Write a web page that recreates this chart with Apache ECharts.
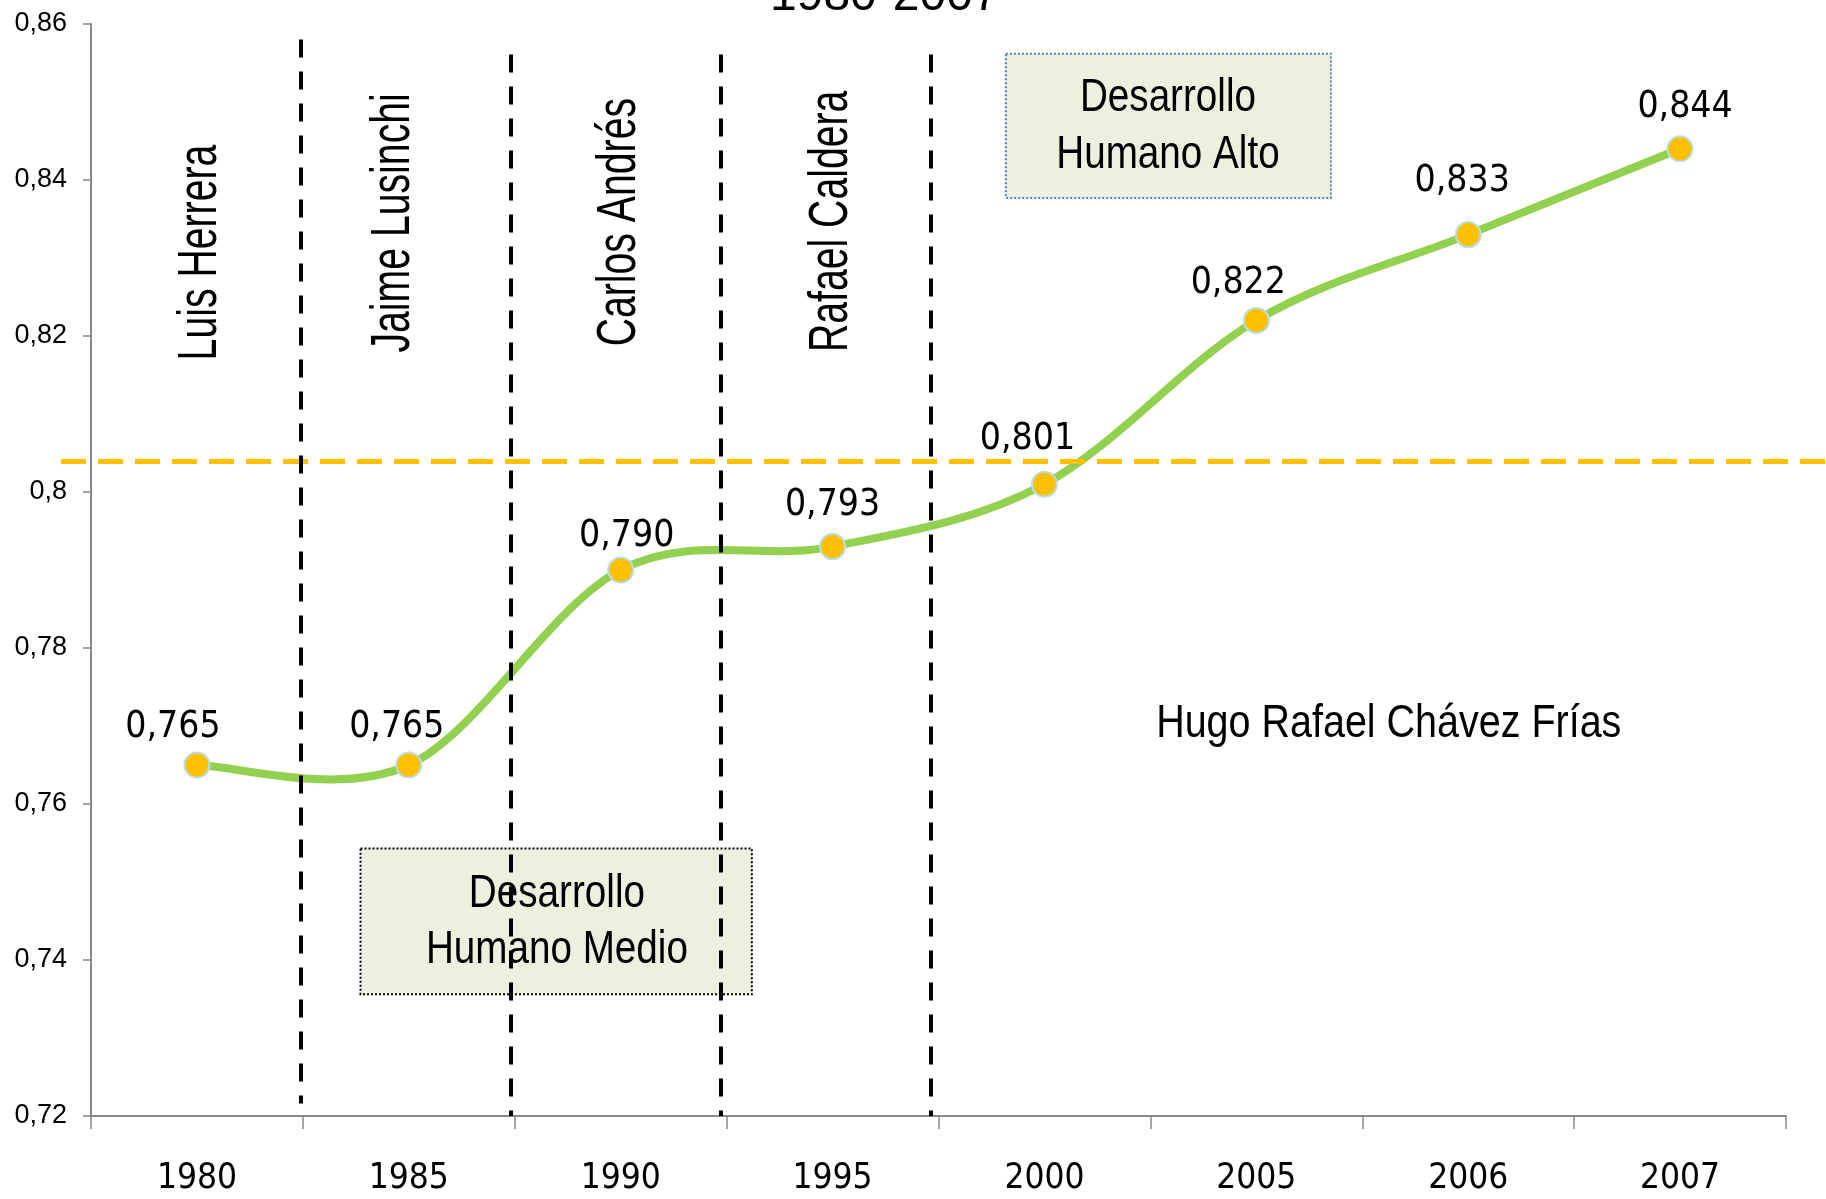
<!DOCTYPE html>
<html>
<head>
<meta charset="utf-8">
<script src="https://cdn.jsdelivr.net/npm/echarts@6/dist/echarts.min.js"></script>
<style>
html,body{margin:0;padding:0;background:#fff;}
#chart{width:1826px;height:1199px;}
</style>
</head>
<body>
<div id="chart"></div>
<script>
// ---- data ----
const years = ['1980', '1985', '1990', '1995', '2000', '2005', '2006', '2007'];
const idh = [0.765, 0.765, 0.790, 0.793, 0.801, 0.822, 0.833, 0.844];
const yMin = 0.72, yMax = 0.86, yStep = 0.02;
const titleText = '1980-2007';
const presidents = ['Luis Herrera', 'Jaime Lusinchi', 'Carlos Andrés', 'Rafael Caldera'];
const chavez = 'Hugo Rafael Chávez Frías';
const highLevel = 0.804;           // umbral Desarrollo Humano Alto
const boxAlto = 'Desarrollo\nHumano Alto';
const boxMedio = 'Desarrollo\nHumano Medio';

// ---- annotation placement (axis units of the helper value axis / y axis) ----
const labelOffsets = [[-24,0],[-12,0],[6,4],[0,-3],[-17,-7],[-18,1],[-6,-15],[5,-3]];
const presidentPos = [[0.019,0.8307],[0.930,0.8345],[1.994,0.8346],[2.997,0.8347]];
const dividers = [[0.491,0.858,0.7216],[1.482,0.8561,0.72],[2.473,0.8561,0.72],[3.464,0.8561,0.72]];
const altoArea = [[3.818,0.8562],[5.352,0.8377]];
const medioArea = [[0.772,0.7543],[2.619,0.7356]];
const altoTextPos = [4.583, 0.84676];
const medioTextPos = [1.699, 0.74478];
const chavezPos = [5.625, 0.7703];

const SANS = '"Liberation Sans",Arial,sans-serif';
const COND = '"DejaVu Sans Condensed","Liberation Sans",sans-serif';
const fmt3 = v => v.toFixed(3).replace('.', ',');

const chart = echarts.init(document.getElementById('chart'));

// Excel-like smoothed curve (Catmull-Rom → cubic Bézier) drawn via the axes' scales
function renderCurve(params, api) {
  const i = params.dataIndex;
  const n = idh.length;
  if (i >= n - 1) return null;
  const P = j => api.coord([Math.max(0, Math.min(n - 1, j)), idh[Math.max(0, Math.min(n - 1, j))]]);
  const p0 = P(i - 1), p1 = P(i), p2 = P(i + 1), p3 = P(i + 2);
  const k = 1 / 6;
  return {
    type: 'bezierCurve',
    shape: {
      x1: p1[0], y1: p1[1], x2: p2[0], y2: p2[1],
      cpx1: p1[0] + (p2[0] - p0[0]) * k, cpy1: p1[1] + (p2[1] - p0[1]) * k,
      cpx2: p2[0] - (p3[0] - p1[0]) * k, cpy2: p2[1] - (p3[1] - p1[1]) * k
    },
    style: {stroke: '#92D050', lineWidth: 8, fill: null, lineCap: 'round'}
  };
}

chart.setOption({
  animation: false,
  backgroundColor: '#fff',
  title: {
    text: titleText, left: 765, top: -32,
    textStyle: {fontFamily: SANS, fontSize: 48, fontWeight: 'normal', color: '#000'}
  },
  grid: [
    {left: 91, right: 40, top: 24, bottom: 83},
    {left: 61, right: 0, top: 24, bottom: 83}
  ],
  xAxis: [
    {
      type: 'category', data: years, boundaryGap: true, gridIndex: 0,
      axisLine: {lineStyle: {color: '#888', width: 2}},
      axisTick: {show: true, length: 13, lineStyle: {color: '#888', width: 1.5}},
      axisLabel: {fontFamily: COND, fontSize: 35, color: '#000', margin: 45},
      splitLine: {show: false}
    },
    {type: 'value', gridIndex: 0, min: -0.5, max: 7.5, show: false},
    {type: 'value', gridIndex: 1, min: 0, max: 1, show: false}
  ],
  yAxis: [
    {
      type: 'value', gridIndex: 0, min: yMin, max: yMax, interval: yStep,
      axisLine: {show: true, onZero: false, lineStyle: {color: '#888', width: 2}},
      axisTick: {show: true, length: 8, lineStyle: {color: '#888', width: 1.5}},
      axisLabel: {
        fontFamily: SANS, fontSize: 27, color: '#000', margin: 24,
        formatter: v => String(+v.toFixed(2)).replace('.', ',')
      },
      splitLine: {show: false}
    },
    {type: 'value', gridIndex: 1, min: yMin, max: yMax, show: false}
  ],
  series: [
    {
      // línea de umbral (ancho completo)
      type: 'line', xAxisIndex: 2, yAxisIndex: 1, data: [], z: 1, silent: true,
      markLine: {
        silent: true, precision: 5, symbol: ['none', 'none'], label: {show: false},
        lineStyle: {color: '#FFC000', width: 5, type: [25, 12]},
        data: [{yAxis: highLevel}]
      }
    },
    {
      // cuadros de anotación
      type: 'line', xAxisIndex: 1, yAxisIndex: 0, data: [], z: 1, silent: true,
      markArea: {
        silent: true, label: {show: false},
        data: [
          [{coord: altoArea[0], itemStyle: {color: '#EBF1DE', borderColor: '#4F81BD', borderWidth: 2, borderType: 'dotted'}},
           {coord: altoArea[1]}],
          [{coord: medioArea[0], itemStyle: {color: '#EBF1DE', borderColor: '#000', borderWidth: 2, borderType: 'dotted'}},
           {coord: medioArea[1]}]
        ]
      }
    },
    {
      name: 'IDH-curva', type: 'custom', xAxisIndex: 0, yAxisIndex: 0, z: 3, silent: true,
      clip: false,
      data: idh.map((v, i) => [years[i], v]),
      encode: {x: 0, y: 1},
      renderItem: renderCurve
    },
    {
      name: 'IDH', type: 'scatter', xAxisIndex: 0, yAxisIndex: 0, z: 4,
      data: idh.map((v, i) => ({value: [years[i], v], label: {offset: labelOffsets[i]}})),
      symbol: 'circle', symbolSize: 25,
      itemStyle: {color: '#FFC000', borderColor: '#B7DEE8', borderWidth: 2, opacity: 1},
      label: {
        show: true, position: 'top', distance: 6,
        fontFamily: COND, fontSize: 37, color: '#000',
        formatter: p => fmt3(p.value[1])
      }
    },
    {
      // líneas divisorias de períodos presidenciales
      type: 'line', xAxisIndex: 1, yAxisIndex: 0, data: [], z: 5, silent: true,
      markLine: {
        silent: true, precision: 5, symbol: ['none', 'none'], label: {show: false},
        lineStyle: {color: '#000', width: 4, type: [18, 14]},
        data: dividers.map(d => [{coord: [d[0], d[1]]}, {coord: [d[0], d[2]]}])
      }
    }
  ]
});

// annotation texts placed through the chart's own scales
const toPx = c => chart.convertToPixel({xAxisIndex: 1, yAxisIndex: 0}, c);
const graphics = [];
presidents.forEach((n, i) => {
  const p = toPx(presidentPos[i]);
  graphics.push({
    type: 'text', x: p[0], y: p[1], rotation: Math.PI / 2, scaleX: 0.7, scaleY: 1,
    silent: true, z: 3,
    style: {text: n, fontFamily: SANS, fontSize: 56, fill: '#000', align: 'center', verticalAlign: 'middle'}
  });
});
[[chavez, chavezPos, 47, 0], [boxAlto, altoTextPos, 46, 57], [boxMedio, medioTextPos, 46, 56]].forEach(t => {
  const p = toPx(t[1]);
  graphics.push({
    type: 'text', x: p[0], y: p[1], scaleX: 0.84, scaleY: 1, silent: true, z: 3,
    style: Object.assign({text: t[0], fontFamily: SANS, fontSize: t[2], fill: '#000', align: 'center', verticalAlign: 'middle'},
      t[3] ? {lineHeight: t[3]} : {})
  });
});
chart.setOption({graphic: {elements: graphics}});
</script>
</body>
</html>
